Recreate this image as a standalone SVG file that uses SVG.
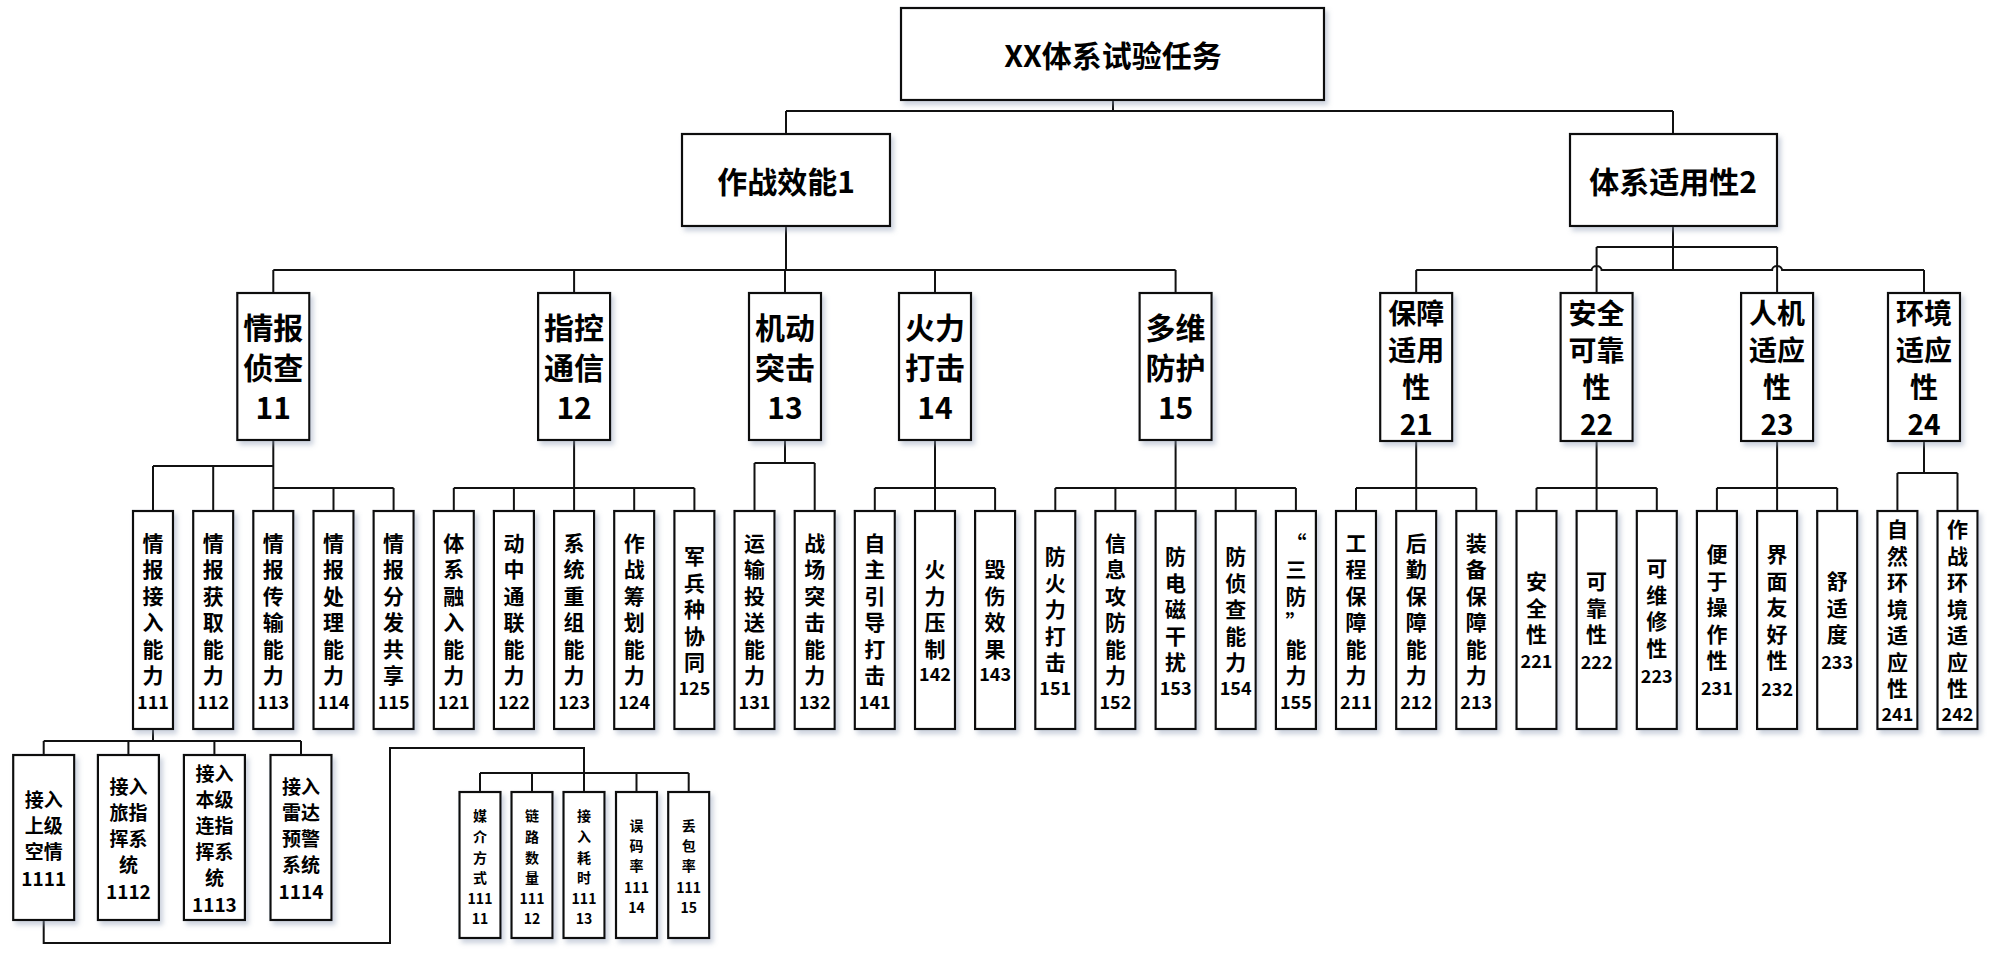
<svg xmlns="http://www.w3.org/2000/svg" width="1999" height="973" viewBox="0 0 1999 973">
<defs>
<filter id="sh" x="-20%" y="-10%" width="150%" height="130%">
<feDropShadow dx="3" dy="4" stdDeviation="2.5" flood-color="#8d9bb5" flood-opacity="0.45"/>
</filter>
<style>
.box{fill:#fff;stroke:#111;stroke-width:2.2;filter:url(#sh)}
.c{fill:none;stroke:#111;stroke-width:2}
text{font-family:"Noto Sans CJK SC","Noto Sans",sans-serif;text-anchor:middle;dominant-baseline:central;fill:#000}
.t1{font-size:30px;font-weight:700}
.t2{font-size:28px;font-weight:700}
.t3{font-size:21px;font-weight:700}
.n3{font-size:18px;font-weight:700}
.t4{font-size:19px;font-weight:700}
.n4{font-size:19px;font-weight:700}
.t5{font-size:14px;font-weight:700}
</style>
</defs>
<rect width="1999" height="973" fill="#fff"/>

<g id="connectors">
<path class="c" d="M1113,100V111M786,111H1673M786,111V134M1673,111V134"/>
<path class="c" d="M786,226V270M273.3,270H1175.6M273.3,270V293M574.1,270V293M785,270V293M935,270V293M1175.6,270V293"/>
<path class="c" d="M1673,226V270M1596.6,247H1777.1M1596.6,247V293M1777.1,247V293M1416.2,270H1591.6A5,4 0 0 1 1601.6,270H1772.1A5,4 0 0 1 1782.1,270H1924M1416.2,270V293M1924,270V293"/>
<path class="c" d="M273.3,440V511M153,466H273.3M153,466V511M213.2,466V511M273.3,488H393.6M333.5,488V511M393.6,488V511"/>
<path class="c" d="M574.1,440V488M453.8,488H694.4M453.8,488V511M513.9,488V511M574.1,488V511M634.2,488V511M694.4,488V511"/>
<path class="c" d="M785,440V463M754.5,463H814.7M754.5,463V511M814.7,463V511"/>
<path class="c" d="M935,440V488M874.8,488H995.1M874.8,488V511M935,488V511M995.1,488V511"/>
<path class="c" d="M1175.6,440V488M1055.3,488H1295.9M1055.3,488V511M1115.4,488V511M1175.6,488V511M1235.7,488V511M1295.9,488V511"/>
<path class="c" d="M1416.2,441V488M1356,488H1476.3M1356,488V511M1416.2,488V511M1476.3,488V511"/>
<path class="c" d="M1596.6,441V488M1536.5,488H1656.8M1536.5,488V511M1596.6,488V511M1656.8,488V511"/>
<path class="c" d="M1777.1,441V488M1716.9,488H1837.2M1716.9,488V511M1777.1,488V511M1837.2,488V511"/>
<path class="c" d="M1924,441V473M1897.4,473H1957.5M1897.4,473V511M1957.5,473V511"/>
<path class="c" d="M153,729V741M43.7,741H301M43.7,741V755M128.4,741V755M214.4,741V755M301,741V755"/>
<path class="c" d="M43.7,920V943H390V748H584V792M480,773H688.7M480,773V792M532,773V792M636.5,773V792M688.7,773V792"/>
</g>

<g id="n0"><rect class="box" x="901" y="8" width="423" height="92"/><text class="t1" x="1113" y="54">XX体系试验任务</text></g>
<g id="n1"><rect class="box" x="682" y="134" width="208" height="92"/><text class="t1" x="786" y="180">作战效能1</text></g>
<g id="n2"><rect class="box" x="1570" y="134" width="207" height="92"/><text class="t1" x="1673" y="180">体系适用性2</text></g>

<g id="n11"><rect class="box" x="237.3" y="293" width="72" height="147"/><text class="t1"><tspan x="273.3" y="326">情报</tspan><tspan x="273.3" y="366">侦查</tspan><tspan x="273.3" y="406">11</tspan></text></g>
<g id="n12"><rect class="box" x="538.1" y="293" width="72" height="147"/><text class="t1"><tspan x="574.1" y="326">指控</tspan><tspan x="574.1" y="366">通信</tspan><tspan x="574.1" y="406">12</tspan></text></g>
<g id="n13"><rect class="box" x="749" y="293" width="72" height="147"/><text class="t1"><tspan x="785" y="326">机动</tspan><tspan x="785" y="366">突击</tspan><tspan x="785" y="406">13</tspan></text></g>
<g id="n14"><rect class="box" x="899" y="293" width="72" height="147"/><text class="t1"><tspan x="935" y="326">火力</tspan><tspan x="935" y="366">打击</tspan><tspan x="935" y="406">14</tspan></text></g>
<g id="n15"><rect class="box" x="1139.6" y="293" width="72" height="147"/><text class="t1"><tspan x="1175.6" y="326">多维</tspan><tspan x="1175.6" y="366">防护</tspan><tspan x="1175.6" y="406">15</tspan></text></g>

<g id="n21"><rect class="box" x="1380.2" y="293" width="72" height="148"/><text class="t2"><tspan x="1416.2" y="312">保障</tspan><tspan x="1416.2" y="349">适用</tspan><tspan x="1416.2" y="386">性</tspan><tspan x="1416.2" y="423">21</tspan></text></g>
<g id="n22"><rect class="box" x="1560.6" y="293" width="72" height="148"/><text class="t2"><tspan x="1596.6" y="312">安全</tspan><tspan x="1596.6" y="349">可靠</tspan><tspan x="1596.6" y="386">性</tspan><tspan x="1596.6" y="423">22</tspan></text></g>
<g id="n23"><rect class="box" x="1741.1" y="293" width="72" height="148"/><text class="t2"><tspan x="1777.1" y="312">人机</tspan><tspan x="1777.1" y="349">适应</tspan><tspan x="1777.1" y="386">性</tspan><tspan x="1777.1" y="423">23</tspan></text></g>
<g id="n24"><rect class="box" x="1888" y="293" width="72" height="148"/><text class="t2"><tspan x="1924" y="312">环境</tspan><tspan x="1924" y="349">适应</tspan><tspan x="1924" y="386">性</tspan><tspan x="1924" y="423">24</tspan></text></g>

<g id="n111"><rect class="box" x="133" y="511" width="40" height="218"/><text class="t3"><tspan x="153" y="541.5">情</tspan><tspan x="153" y="568">报</tspan><tspan x="153" y="594.5">接</tspan><tspan x="153" y="621">入</tspan><tspan x="153" y="647.5">能</tspan><tspan x="153" y="674">力</tspan></text><text class="n3" x="153" y="701">111</text></g>
<g id="n112"><rect class="box" x="193.2" y="511" width="40" height="218"/><text class="t3"><tspan x="213.2" y="541.5">情</tspan><tspan x="213.2" y="568">报</tspan><tspan x="213.2" y="594.5">获</tspan><tspan x="213.2" y="621">取</tspan><tspan x="213.2" y="647.5">能</tspan><tspan x="213.2" y="674">力</tspan></text><text class="n3" x="213.2" y="701">112</text></g>
<g id="n113"><rect class="box" x="253.3" y="511" width="40" height="218"/><text class="t3"><tspan x="273.3" y="541.5">情</tspan><tspan x="273.3" y="568">报</tspan><tspan x="273.3" y="594.5">传</tspan><tspan x="273.3" y="621">输</tspan><tspan x="273.3" y="647.5">能</tspan><tspan x="273.3" y="674">力</tspan></text><text class="n3" x="273.3" y="701">113</text></g>
<g id="n114"><rect class="box" x="313.5" y="511" width="40" height="218"/><text class="t3"><tspan x="333.5" y="541.5">情</tspan><tspan x="333.5" y="568">报</tspan><tspan x="333.5" y="594.5">处</tspan><tspan x="333.5" y="621">理</tspan><tspan x="333.5" y="647.5">能</tspan><tspan x="333.5" y="674">力</tspan></text><text class="n3" x="333.5" y="701">114</text></g>
<g id="n115"><rect class="box" x="373.6" y="511" width="40" height="218"/><text class="t3"><tspan x="393.6" y="541.5">情</tspan><tspan x="393.6" y="568">报</tspan><tspan x="393.6" y="594.5">分</tspan><tspan x="393.6" y="621">发</tspan><tspan x="393.6" y="647.5">共</tspan><tspan x="393.6" y="674">享</tspan></text><text class="n3" x="393.6" y="701">115</text></g>
<g id="n121"><rect class="box" x="433.8" y="511" width="40" height="218"/><text class="t3"><tspan x="453.8" y="541.5">体</tspan><tspan x="453.8" y="568">系</tspan><tspan x="453.8" y="594.5">融</tspan><tspan x="453.8" y="621">入</tspan><tspan x="453.8" y="647.5">能</tspan><tspan x="453.8" y="674">力</tspan></text><text class="n3" x="453.8" y="701">121</text></g>
<g id="n122"><rect class="box" x="493.9" y="511" width="40" height="218"/><text class="t3"><tspan x="513.9" y="541.5">动</tspan><tspan x="513.9" y="568">中</tspan><tspan x="513.9" y="594.5">通</tspan><tspan x="513.9" y="621">联</tspan><tspan x="513.9" y="647.5">能</tspan><tspan x="513.9" y="674">力</tspan></text><text class="n3" x="513.9" y="701">122</text></g>
<g id="n123"><rect class="box" x="554.1" y="511" width="40" height="218"/><text class="t3"><tspan x="574.1" y="541.5">系</tspan><tspan x="574.1" y="568">统</tspan><tspan x="574.1" y="594.5">重</tspan><tspan x="574.1" y="621">组</tspan><tspan x="574.1" y="647.5">能</tspan><tspan x="574.1" y="674">力</tspan></text><text class="n3" x="574.1" y="701">123</text></g>
<g id="n124"><rect class="box" x="614.2" y="511" width="40" height="218"/><text class="t3"><tspan x="634.2" y="541.5">作</tspan><tspan x="634.2" y="568">战</tspan><tspan x="634.2" y="594.5">筹</tspan><tspan x="634.2" y="621">划</tspan><tspan x="634.2" y="647.5">能</tspan><tspan x="634.2" y="674">力</tspan></text><text class="n3" x="634.2" y="701">124</text></g>
<g id="n125"><rect class="box" x="674.4" y="511" width="40" height="218"/><text class="t3"><tspan x="694.4" y="555">军</tspan><tspan x="694.4" y="581.5">兵</tspan><tspan x="694.4" y="608">种</tspan><tspan x="694.4" y="634.5">协</tspan><tspan x="694.4" y="661">同</tspan></text><text class="n3" x="694.4" y="687">125</text></g>
<g id="n131"><rect class="box" x="734.5" y="511" width="40" height="218"/><text class="t3"><tspan x="754.5" y="541.5">运</tspan><tspan x="754.5" y="568">输</tspan><tspan x="754.5" y="594.5">投</tspan><tspan x="754.5" y="621">送</tspan><tspan x="754.5" y="647.5">能</tspan><tspan x="754.5" y="674">力</tspan></text><text class="n3" x="754.5" y="701">131</text></g>
<g id="n132"><rect class="box" x="794.7" y="511" width="40" height="218"/><text class="t3"><tspan x="814.7" y="541.5">战</tspan><tspan x="814.7" y="568">场</tspan><tspan x="814.7" y="594.5">突</tspan><tspan x="814.7" y="621">击</tspan><tspan x="814.7" y="647.5">能</tspan><tspan x="814.7" y="674">力</tspan></text><text class="n3" x="814.7" y="701">132</text></g>
<g id="n141"><rect class="box" x="854.8" y="511" width="40" height="218"/><text class="t3"><tspan x="874.8" y="541.5">自</tspan><tspan x="874.8" y="568">主</tspan><tspan x="874.8" y="594.5">引</tspan><tspan x="874.8" y="621">导</tspan><tspan x="874.8" y="647.5">打</tspan><tspan x="874.8" y="674">击</tspan></text><text class="n3" x="874.8" y="701">141</text></g>
<g id="n142"><rect class="box" x="915" y="511" width="40" height="218"/><text class="t3"><tspan x="935" y="568">火</tspan><tspan x="935" y="594.5">力</tspan><tspan x="935" y="621">压</tspan><tspan x="935" y="647.5">制</tspan></text><text class="n3" x="935" y="673">142</text></g>
<g id="n143"><rect class="box" x="975.1" y="511" width="40" height="218"/><text class="t3"><tspan x="995.1" y="568">毁</tspan><tspan x="995.1" y="594.5">伤</tspan><tspan x="995.1" y="621">效</tspan><tspan x="995.1" y="647.5">果</tspan></text><text class="n3" x="995.1" y="673">143</text></g>
<g id="n151"><rect class="box" x="1035.3" y="511" width="40" height="218"/><text class="t3"><tspan x="1055.3" y="555">防</tspan><tspan x="1055.3" y="581.5">火</tspan><tspan x="1055.3" y="608">力</tspan><tspan x="1055.3" y="634.5">打</tspan><tspan x="1055.3" y="661">击</tspan></text><text class="n3" x="1055.3" y="687">151</text></g>
<g id="n152"><rect class="box" x="1095.4" y="511" width="40" height="218"/><text class="t3"><tspan x="1115.4" y="541.5">信</tspan><tspan x="1115.4" y="568">息</tspan><tspan x="1115.4" y="594.5">攻</tspan><tspan x="1115.4" y="621">防</tspan><tspan x="1115.4" y="647.5">能</tspan><tspan x="1115.4" y="674">力</tspan></text><text class="n3" x="1115.4" y="701">152</text></g>
<g id="n153"><rect class="box" x="1155.6" y="511" width="40" height="218"/><text class="t3"><tspan x="1175.6" y="555">防</tspan><tspan x="1175.6" y="581.5">电</tspan><tspan x="1175.6" y="608">磁</tspan><tspan x="1175.6" y="634.5">干</tspan><tspan x="1175.6" y="661">扰</tspan></text><text class="n3" x="1175.6" y="687">153</text></g>
<g id="n154"><rect class="box" x="1215.7" y="511" width="40" height="218"/><text class="t3"><tspan x="1235.7" y="555">防</tspan><tspan x="1235.7" y="581.5">侦</tspan><tspan x="1235.7" y="608">查</tspan><tspan x="1235.7" y="634.5">能</tspan><tspan x="1235.7" y="661">力</tspan></text><text class="n3" x="1235.7" y="687">154</text></g>
<g id="n155"><rect class="box" x="1275.9" y="511" width="40" height="218"/><text class="t3"><tspan x="1295.9" y="541.5">“</tspan><tspan x="1295.9" y="568">三</tspan><tspan x="1295.9" y="594.5">防</tspan><tspan x="1295.9" y="621">”</tspan><tspan x="1295.9" y="647.5">能</tspan><tspan x="1295.9" y="674">力</tspan></text><text class="n3" x="1295.9" y="701">155</text></g>
<g id="n211"><rect class="box" x="1336" y="511" width="40" height="218"/><text class="t3"><tspan x="1356" y="541.5">工</tspan><tspan x="1356" y="568">程</tspan><tspan x="1356" y="594.5">保</tspan><tspan x="1356" y="621">障</tspan><tspan x="1356" y="647.5">能</tspan><tspan x="1356" y="674">力</tspan></text><text class="n3" x="1356" y="701">211</text></g>
<g id="n212"><rect class="box" x="1396.2" y="511" width="40" height="218"/><text class="t3"><tspan x="1416.2" y="541.5">后</tspan><tspan x="1416.2" y="568">勤</tspan><tspan x="1416.2" y="594.5">保</tspan><tspan x="1416.2" y="621">障</tspan><tspan x="1416.2" y="647.5">能</tspan><tspan x="1416.2" y="674">力</tspan></text><text class="n3" x="1416.2" y="701">212</text></g>
<g id="n213"><rect class="box" x="1456.3" y="511" width="40" height="218"/><text class="t3"><tspan x="1476.3" y="541.5">装</tspan><tspan x="1476.3" y="568">备</tspan><tspan x="1476.3" y="594.5">保</tspan><tspan x="1476.3" y="621">障</tspan><tspan x="1476.3" y="647.5">能</tspan><tspan x="1476.3" y="674">力</tspan></text><text class="n3" x="1476.3" y="701">213</text></g>
<g id="n221"><rect class="box" x="1516.5" y="511" width="40" height="218"/><text class="t3"><tspan x="1536.5" y="580">安</tspan><tspan x="1536.5" y="606.5">全</tspan><tspan x="1536.5" y="633">性</tspan></text><text class="n3" x="1536.5" y="660">221</text></g>
<g id="n222"><rect class="box" x="1576.6" y="511" width="40" height="218"/><text class="t3"><tspan x="1596.6" y="580">可</tspan><tspan x="1596.6" y="606.5">靠</tspan><tspan x="1596.6" y="633">性</tspan></text><text class="n3" x="1596.6" y="661">222</text></g>
<g id="n223"><rect class="box" x="1636.8" y="511" width="40" height="218"/><text class="t3"><tspan x="1656.8" y="567">可</tspan><tspan x="1656.8" y="593.5">维</tspan><tspan x="1656.8" y="620">修</tspan><tspan x="1656.8" y="646.5">性</tspan></text><text class="n3" x="1656.8" y="675">223</text></g>
<g id="n231"><rect class="box" x="1696.9" y="511" width="40" height="218"/><text class="t3"><tspan x="1716.9" y="553">便</tspan><tspan x="1716.9" y="579.5">于</tspan><tspan x="1716.9" y="606">操</tspan><tspan x="1716.9" y="632.5">作</tspan><tspan x="1716.9" y="659">性</tspan></text><text class="n3" x="1716.9" y="687">231</text></g>
<g id="n232"><rect class="box" x="1757.1" y="511" width="40" height="218"/><text class="t3"><tspan x="1777.1" y="553">界</tspan><tspan x="1777.1" y="579.5">面</tspan><tspan x="1777.1" y="606">友</tspan><tspan x="1777.1" y="632.5">好</tspan><tspan x="1777.1" y="659">性</tspan></text><text class="n3" x="1777.1" y="688">232</text></g>
<g id="n233"><rect class="box" x="1817.2" y="511" width="40" height="218"/><text class="t3"><tspan x="1837.2" y="580">舒</tspan><tspan x="1837.2" y="606.5">适</tspan><tspan x="1837.2" y="633">度</tspan></text><text class="n3" x="1837.2" y="661">233</text></g>
<g id="n241"><rect class="box" x="1877.4" y="511" width="40" height="218"/><text class="t3"><tspan x="1897.4" y="528">自</tspan><tspan x="1897.4" y="554.5">然</tspan><tspan x="1897.4" y="581">环</tspan><tspan x="1897.4" y="607.5">境</tspan><tspan x="1897.4" y="634">适</tspan><tspan x="1897.4" y="660.5">应</tspan><tspan x="1897.4" y="687">性</tspan></text><text class="n3" x="1897.4" y="713">241</text></g>
<g id="n242"><rect class="box" x="1937.5" y="511" width="40" height="218"/><text class="t3"><tspan x="1957.5" y="528">作</tspan><tspan x="1957.5" y="554.5">战</tspan><tspan x="1957.5" y="581">环</tspan><tspan x="1957.5" y="607.5">境</tspan><tspan x="1957.5" y="634">适</tspan><tspan x="1957.5" y="660.5">应</tspan><tspan x="1957.5" y="687">性</tspan></text><text class="n3" x="1957.5" y="713">242</text></g>

<g id="n1111"><rect class="box" x="13.2" y="755" width="61" height="165"/><text class="t4"><tspan x="43.7" y="798">接入</tspan><tspan x="43.7" y="824">上级</tspan><tspan x="43.7" y="850">空情</tspan></text><text class="n4" x="43.7" y="877">1111</text></g>
<g id="n1112"><rect class="box" x="97.9" y="755" width="61" height="165"/><text class="t4"><tspan x="128.4" y="785">接入</tspan><tspan x="128.4" y="811">旅指</tspan><tspan x="128.4" y="837">挥系</tspan><tspan x="128.4" y="863">统</tspan></text><text class="n4" x="128.4" y="890">1112</text></g>
<g id="n1113"><rect class="box" x="183.9" y="755" width="61" height="165"/><text class="t4"><tspan x="214.4" y="772">接入</tspan><tspan x="214.4" y="798">本级</tspan><tspan x="214.4" y="824">连指</tspan><tspan x="214.4" y="850">挥系</tspan><tspan x="214.4" y="876">统</tspan></text><text class="n4" x="214.4" y="903">1113</text></g>
<g id="n1114"><rect class="box" x="270.5" y="755" width="61" height="165"/><text class="t4"><tspan x="301" y="785">接入</tspan><tspan x="301" y="811">雷达</tspan><tspan x="301" y="837">预警</tspan><tspan x="301" y="863">系统</tspan></text><text class="n4" x="301" y="890">1114</text></g>

<g id="n11111"><rect class="box" x="459.5" y="792" width="41" height="146"/><text class="t5"><tspan x="480" y="815">媒</tspan><tspan x="480" y="836">介</tspan><tspan x="480" y="856.5">方</tspan><tspan x="480" y="877">式</tspan><tspan x="480" y="897.5">111</tspan><tspan x="480" y="918">11</tspan></text></g>
<g id="n11112"><rect class="box" x="511.5" y="792" width="41" height="146"/><text class="t5"><tspan x="532" y="815">链</tspan><tspan x="532" y="836">路</tspan><tspan x="532" y="856.5">数</tspan><tspan x="532" y="877">量</tspan><tspan x="532" y="897.5">111</tspan><tspan x="532" y="918">12</tspan></text></g>
<g id="n11113"><rect class="box" x="563.5" y="792" width="41" height="146"/><text class="t5"><tspan x="584" y="815">接</tspan><tspan x="584" y="836">入</tspan><tspan x="584" y="856.5">耗</tspan><tspan x="584" y="877">时</tspan><tspan x="584" y="897.5">111</tspan><tspan x="584" y="918">13</tspan></text></g>
<g id="n11114"><rect class="box" x="616" y="792" width="41" height="146"/><text class="t5"><tspan x="636.5" y="825">误</tspan><tspan x="636.5" y="845">码</tspan><tspan x="636.5" y="865">率</tspan><tspan x="636.5" y="886.5">111</tspan><tspan x="636.5" y="907">14</tspan></text></g>
<g id="n11115"><rect class="box" x="668.2" y="792" width="41" height="146"/><text class="t5"><tspan x="688.7" y="825">丢</tspan><tspan x="688.7" y="845">包</tspan><tspan x="688.7" y="865">率</tspan><tspan x="688.7" y="886.5">111</tspan><tspan x="688.7" y="907">15</tspan></text></g>
</svg>
